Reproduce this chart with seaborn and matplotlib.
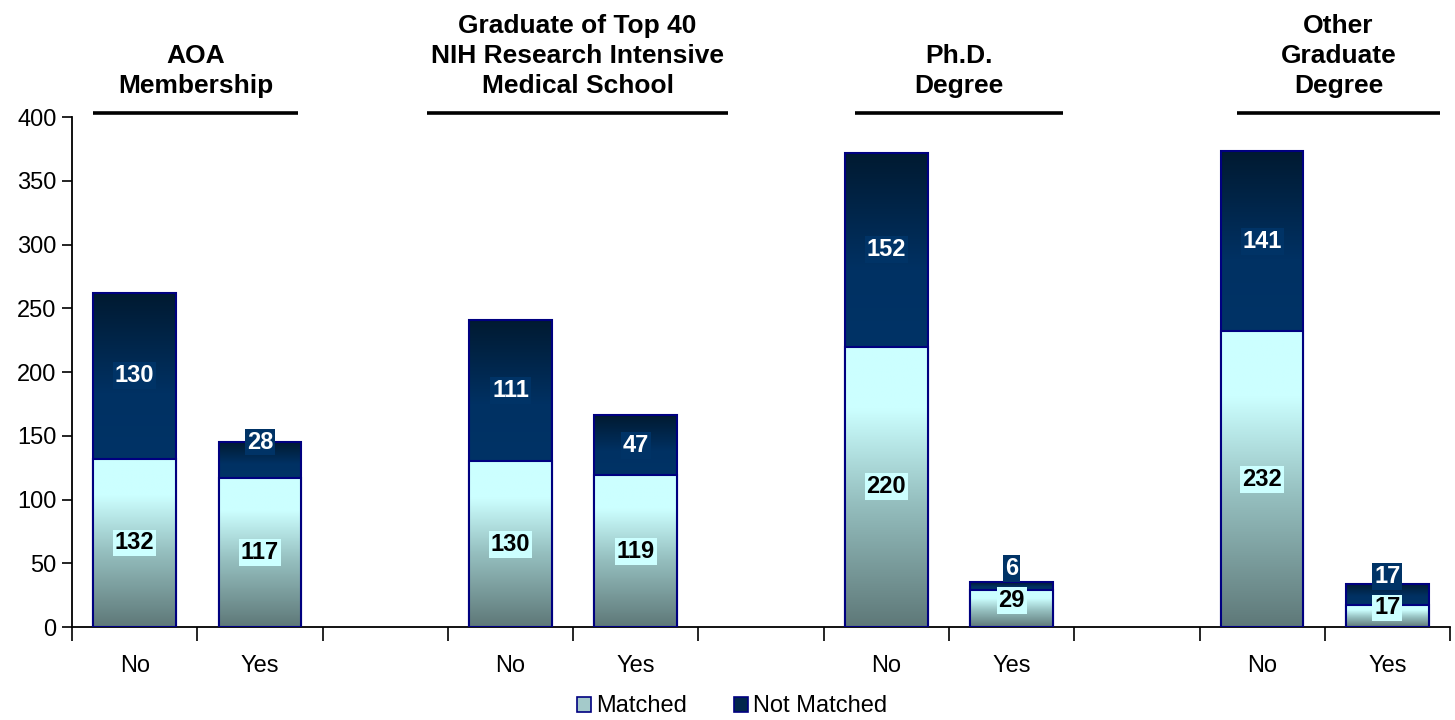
import numpy as np
import pandas as pd
import matplotlib
matplotlib.use("Agg")
import matplotlib.pyplot as plt
import matplotlib.transforms as mtransforms
from matplotlib.colors import LinearSegmentedColormap
from matplotlib.patches import Patch
import seaborn as sns

# data
groups = ["AOA\nMembership", "Graduate of Top 40\nNIH Research Intensive\nMedical School",
          "Ph.D.\nDegree", "Other\nGraduate\nDegree"]
answers = ["No", "Yes"]
matched = [132, 117, 130, 119, 220, 29, 232, 17]
not_matched = [130, 28, 111, 47, 152, 6, 141, 17]

# slots: No, Yes, gap for each group
order = []
for g in range(len(groups)):
    order += [f"g{g}-No", f"g{g}-Yes"]
    if g < len(groups) - 1:
        order.append(f"g{g}-gap")

rows = []
for i, (m, n) in enumerate(zip(matched, not_matched)):
    g, a = divmod(i, 2)
    rows.append({"slot": f"g{g}-{answers[a]}", "matched": m, "not_matched": n, "total": m + n})
df = pd.DataFrame(rows)

sns.set_style("white")
plt.rcParams["font.family"] = ["Liberation Sans", "DejaVu Sans"]
plt.rcParams["text.color"] = "black"
plt.rcParams["xtick.color"] = "black"
plt.rcParams["ytick.color"] = "black"
plt.rcParams["axes.labelcolor"] = "black"

fig = plt.figure(figsize=(14.55, 7.2), dpi=100)
ax = fig.add_axes([0.0495, 0.129, 0.9471, 0.7085])

edge = "#000080"
sns.barplot(data=df, x="slot", y="total", order=order, color="#003366", width=0.66,
            edgecolor=edge, linewidth=1.5, ax=ax)
n_first = len(ax.patches)
sns.barplot(data=df, x="slot", y="matched", order=order, color="#CCFFFF", width=0.66,
            edgecolor=edge, linewidth=1.5, ax=ax)
nm_patches = ax.patches[:n_first]
m_patches = ax.patches[n_first:]

cmap_m = LinearSegmentedColormap.from_list(
    "m", [(0, "#5E7878"), (0.45, "#96C0C0"), (0.78, "#CCFFFF"), (1, "#CCFFFF")])
cmap_nm = LinearSegmentedColormap.from_list(
    "nm", [(0, "#003366"), (0.4, "#003163"), (1, "#011A31")])
grad = np.linspace(0, 1, 256).reshape(-1, 1)

def fill_gradient(p, cmap, y0, y1, z):
    x0 = p.get_x()
    x1 = x0 + p.get_width()
    im = ax.imshow(grad, extent=[x0, x1, y0, y1], origin="lower", aspect="auto",
                   cmap=cmap, zorder=z, interpolation="bilinear")
    im.set_clip_path(p)
    p.set_facecolor("none")
    p.set_zorder(z + 0.2)

for p, m, t in zip(nm_patches, df["matched"], df["total"]):
    fill_gradient(p, cmap_nm, m, t, 2)
for p, m in zip(m_patches, df["matched"]):
    fill_gradient(p, cmap_m, 0, m, 3)

# data labels
for p, m, n in zip(m_patches, df["matched"], df["not_matched"]):
    xc = p.get_x() + p.get_width() / 2
    dy = 6 if m < 40 else 0
    ax.annotate(str(m), (xc, m / 2), xytext=(0, dy), textcoords="offset points",
                ha="center", va="center", fontsize=17, fontweight="bold", color="black",
                zorder=6, bbox=dict(boxstyle="square,pad=0.08", fc="#CCFFFF", ec="none"))
    dy = 13 if n < 40 else 0
    ax.annotate(str(n), (xc, m + n / 2), xytext=(0, dy), textcoords="offset points",
                ha="center", va="center", fontsize=17, fontweight="bold", color="white",
                zorder=6, bbox=dict(boxstyle="square,pad=0.08", fc="#003366", ec="none"))

# axes
ax.set_xlim(-0.5, len(order) - 0.5)
ax.set_ylim(0, 400)
ax.set_yticks(range(0, 401, 50))
ax.set_xticks(range(len(order)))
ax.set_xticklabels([s.split("-")[1] if not s.endswith("gap") else "" for s in order])
ax.set_xticks(np.arange(-0.5, len(order), 1), minor=True)
ax.tick_params(axis="x", which="major", length=0, pad=20, labelsize=17)
ax.tick_params(axis="x", which="minor", length=10, width=1.2, direction="out", bottom=True)
ax.tick_params(axis="y", length=7, width=1.2, direction="out", left=True, labelsize=17, pad=4)
ax.set_xlabel("")
ax.set_ylabel("")
sns.despine(ax=ax, top=True, right=True)
for side in ["left", "bottom"]:
    ax.spines[side].set_linewidth(1.3)
    ax.spines[side].set_color("black")

# group headers
trans = mtransforms.blended_transform_factory(ax.transData, ax.transAxes)
header_spans = [(-0.33, 1.30), (2.33, 4.74), (5.75, 7.41), (8.80, 10.42)]
for title, (xa, xb) in zip(groups, header_spans):
    ax.plot([xa, xb], [1.008, 1.008], transform=trans, color="black", lw=2.6,
            clip_on=False, solid_capstyle="butt")
    ax.text((xa + xb) / 2, 1.038, title, transform=trans, ha="center", va="bottom",
            fontsize=19, fontweight="bold", linespacing=1.3)

# legend
handles = [Patch(facecolor="#A4CACA", edgecolor=edge, lw=1.2, label="Matched"),
           Patch(facecolor="#02264C", edgecolor=edge, lw=1.2, label="Not Matched")]
fig.legend(handles=handles, loc="lower center", bbox_to_anchor=(0.503, -0.026), ncol=2,
           frameon=False, fontsize=17, handlelength=0.6, handleheight=0.6,
           handletextpad=0.2, columnspacing=2.0)

fig.savefig("out.png", dpi=100)
